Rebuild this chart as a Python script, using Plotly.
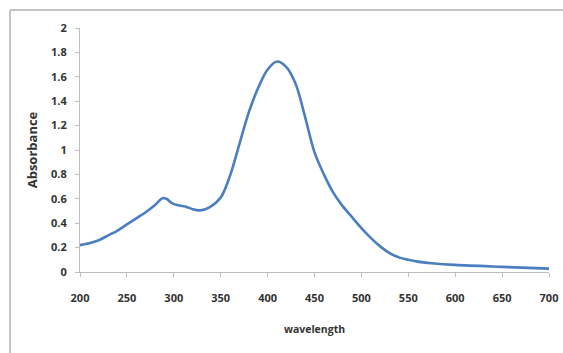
import plotly.graph_objects as go

wavelength = [200, 210, 220, 230, 240, 250, 260, 270, 280, 288, 292, 299, 306, 313, 320, 328,
              338, 350, 360, 370, 380, 390, 400, 410, 420, 430, 440, 450, 460, 470, 480,
              490, 500, 510, 520, 530, 540, 550, 560, 575, 600, 650, 700]
absorbance = [0.22, 0.235, 0.26, 0.30, 0.34, 0.39, 0.44, 0.49, 0.55, 0.605, 0.60, 0.56, 0.545, 0.535,
              0.515, 0.505, 0.53, 0.61, 0.79, 1.05, 1.31, 1.51, 1.66, 1.725, 1.68, 1.54, 1.27,
              0.98, 0.80, 0.65, 0.54, 0.45, 0.36, 0.28, 0.21, 0.155, 0.12, 0.10, 0.085,
              0.072, 0.058, 0.042, 0.028]
x_ticks = [200, 250, 300, 350, 400, 450, 500, 550, 600, 650, 700]
y_ticks = [0, 0.2, 0.4, 0.6, 0.8, 1, 1.2, 1.4, 1.6, 1.8, 2]

W, H = 563, 353
L, R, T, B = 80, 14, 28, 81
pw, ph = W - L - R, H - T - B

fig = go.Figure()
fig.add_trace(go.Scatter(
    x=wavelength, y=absorbance, mode="lines",
    line=dict(color="#4a7ebf", width=2.6, shape="spline", smoothing=0.9),
    showlegend=False, hoverinfo="skip", cliponaxis=False))

fam = "Open Sans, Liberation Sans, sans-serif"
tick_font = dict(family=fam, size=11, color="#333333", weight="bold")

axis_common = dict(showline=True, linecolor="#bdbdbd", linewidth=1, ticks="outside",
                   ticklen=4, tickcolor="#bdbdbd", showgrid=False, zeroline=False,
                   tickfont=tick_font, automargin=False)

fig.update_xaxes(range=[200, 700], tickvals=x_ticks, ticklabelstandoff=12,
                 title=dict(text="wavelength",
                            font=dict(family=fam, size=10.5, color="#333333", weight="bold"),
                            standoff=21),
                 **axis_common)
fig.update_yaxes(range=[0, 2], tickvals=y_ticks, ticklabelstandoff=6,
                 title=dict(text="Absorbance",
                            font=dict(family=fam, size=13, color="#333333", weight="bold"),
                            standoff=10),
                 **axis_common)

def px_x(px):
    return (px - L) / pw

def px_y(py):
    return (H - B - py) / ph

border = dict(color="#c4c4c4", width=2)
fig.add_shape(type="line", xref="paper", yref="paper", layer="above",
              x0=px_x(10), x1=px_x(W + 5), y0=px_y(10), y1=px_y(10), line=border)
fig.add_shape(type="line", xref="paper", yref="paper", layer="above",
              x0=px_x(10), x1=px_x(10), y0=px_y(10), y1=px_y(H + 5), line=border)

fig.update_layout(width=W, height=H, margin=dict(l=L, r=R, t=T, b=B, autoexpand=False),
                  plot_bgcolor="white", paper_bgcolor="white", font=tick_font)

fig.write_html("out.html", config={"displayModeBar": False},
               post_script="document.body.style.margin='0';document.body.style.overflow='hidden';")
